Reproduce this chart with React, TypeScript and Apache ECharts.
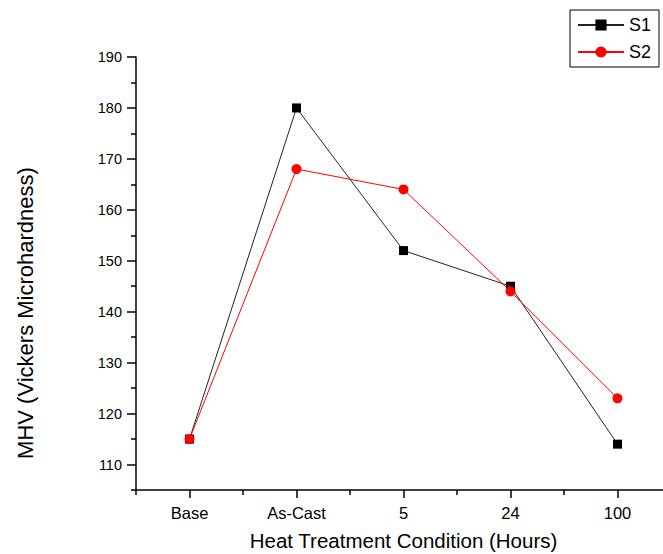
import React, { useEffect, useRef } from "react";
import * as echarts from "echarts";

const categories = ["Base", "As-Cast", "5", "24", "100"];
const s1Values = [115, 180, 152, 145, 114];
const s2Values = [115, 168, 164, 144, 123];
const yMajorTicks = [110, 120, 130, 140, 150, 160, 170, 180, 190];
const yMinorTicks = [105, 115, 125, 135, 145, 155, 165, 175, 185];
const yMin = 105;
const yMax = 190;

const FONT = "'Liberation Sans', Arial, sans-serif";

export default function App() {
  const ref = useRef<HTMLDivElement>(null);
  useEffect(() => {
    if (!ref.current) return;
    const chart = echarts.init(ref.current, undefined, { renderer: "svg" });
    const axisLine = { show: true, lineStyle: { color: "#000", width: 1.5 } };
    chart.setOption({
      animation: false,
      backgroundColor: "#fff",
      textStyle: { fontFamily: FONT },
      grid: {
        left: 136,
        top: 57,
        width: 535,
        height: 433,
        containLabel: false,
        outerBoundsMode: "none",
      },
      legend: {
        orient: "vertical",
        left: 570,
        top: 10,
        itemWidth: 46,
        itemHeight: 14,
        itemGap: 9,
        padding: [6, 8, 6, 7],
        borderColor: "#000",
        borderWidth: 1,
        textStyle: { fontSize: 18, color: "#000", fontFamily: FONT },
        data: ["S1", "S2"],
      },
      xAxis: [
        {
          type: "category",
          data: categories,
          position: "bottom",
          boundaryGap: true,
          axisLine,
          axisTick: { show: true, alignWithLabel: true, length: 8, lineStyle: { color: "#000", width: 1.5 } },
          axisLabel: { fontSize: 16.5, color: "#000", margin: 14, fontFamily: FONT },
          splitLine: { show: false },
          name: "Heat Treatment Condition (Hours)",
          nameLocation: "middle",
          nameGap: 39,
          nameTextStyle: { fontSize: 20.5, lineHeight: 22, color: "#000", fontFamily: FONT },
        },
        {
          type: "category",
          data: categories,
          position: "bottom",
          boundaryGap: true,
          axisLine: { show: false },
          axisTick: { show: true, length: 5, lineStyle: { color: "#000", width: 1.5 } },
          axisLabel: { show: false },
          splitLine: { show: false },
        },
      ],
      yAxis: [
        {
          type: "value",
          min: yMin,
          max: yMax,
          position: "left",
          axisLine,
          axisTick: { show: true, length: 9, customValues: yMajorTicks, lineStyle: { color: "#000", width: 1.5 } },
          axisLabel: { fontSize: 14.5, color: "#000", margin: 14, customValues: yMajorTicks, fontFamily: FONT },
          splitLine: { show: false },
        },
        {
          type: "value",
          min: yMin,
          max: yMax,
          position: "left",
          axisLine: { show: false },
          axisTick: { show: true, length: 5, customValues: yMinorTicks, lineStyle: { color: "#000", width: 1.5 } },
          axisLabel: { show: false },
          splitLine: { show: false },
        },
      ],
      graphic: [
        {
          type: "text",
          x: 25,
          y: 313,
          rotation: Math.PI / 2,
          style: {
            text: "MHV (Vickers Microhardness)",
            font: `22px ${FONT}`,
            fill: "#000",
            textAlign: "center",
            textVerticalAlign: "middle",
          },
        },
      ],
      series: [
        {
          name: "S1",
          type: "line",
          xAxisIndex: 0,
          yAxisIndex: 0,
          data: s1Values,
          symbol: "rect",
          symbolSize: 9,
          itemStyle: { color: "#000" },
          lineStyle: { color: "#222", width: 1 },
        },
        {
          name: "S2",
          type: "line",
          xAxisIndex: 0,
          yAxisIndex: 0,
          data: s2Values,
          symbol: "circle",
          symbolSize: 10,
          itemStyle: { color: "#ff0000" },
          lineStyle: { color: "#ff0000", width: 1 },
        },
      ],
    });
    return () => chart.dispose();
  }, []);
  return (
    <div
      ref={ref}
      style={{ position: "fixed", left: 0, top: 0, width: 663, height: 554, background: "#fff" }}
    />
  );
}
